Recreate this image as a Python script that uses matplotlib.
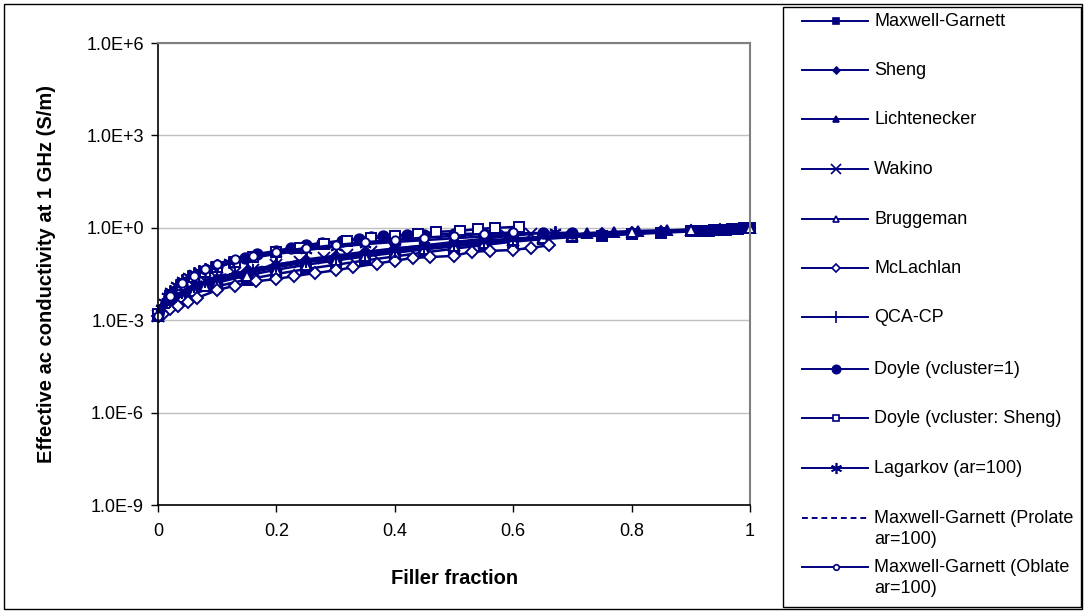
import numpy as np
import matplotlib
matplotlib.use('Agg')
from matplotlib import pyplot as plt
from matplotlib.lines import Line2D
from matplotlib.patches import Rectangle
from matplotlib.ticker import FixedLocator, FuncFormatter

plt.rcParams['font.family'] = ['Liberation Sans', 'DejaVu Sans']

# Values: filler fraction and log10 of conductivity (S/m)
mg_x = [0, 0.02, 0.05, 0.1, 0.15, 0.2, 0.25, 0.3, 0.35, 0.4, 0.45, 0.5, 0.55, 0.6, 0.65, 0.7, 0.75, 0.8, 0.85,
        0.9, 0.91, 0.92, 0.93, 0.94, 0.95, 0.96, 0.97, 0.98, 0.99, 1.0]
mg_log = [-2.85, -2.5, -2.2, -1.9, -1.68, -1.5, -1.34, -1.2, -1.06, -0.93, -0.8, -0.68, -0.56, -0.45, -0.37, -0.3,
          -0.25, -0.21, -0.16, -0.12, -0.11, -0.1, -0.09, -0.08, -0.07, -0.06, -0.04, -0.03, -0.02, 0.0]

sheng_x = [0, 0.03, 0.06, 0.1, 0.15, 0.2, 0.25, 0.3, 0.35, 0.4, 0.45, 0.5, 0.55, 0.6, 0.65, 0.7, 0.75, 0.8, 0.85,
           0.9, 0.95, 1.0]
sheng_log = [-2.85, -2.3, -1.95, -1.65, -1.4, -1.2, -1.03, -0.9, -0.78, -0.67, -0.58, -0.5, -0.42, -0.35, -0.29,
             -0.23, -0.18, -0.14, -0.1, -0.06, -0.03, 0.0]

licht_x = [0, 0.02, 0.05, 0.08, 0.1, 0.15, 0.2, 0.25, 0.3, 0.35, 0.4, 0.45, 0.5, 0.55, 0.6, 0.65, 0.7, 0.725,
           0.77, 0.81, 0.86, 0.9, 0.95, 1.0]
licht_log = [-2.85, -2.45, -2.1, -1.85, -1.72, -1.48, -1.28, -1.12, -0.98, -0.86, -0.75, -0.65, -0.56, -0.47,
             -0.38, -0.3, -0.22, -0.17, -0.13, -0.1, -0.08, -0.06, -0.03, 0.0]

wakino_x = [0, 0.02, 0.04, 0.06, 0.08, 0.1, 0.13, 0.16, 0.2, 0.24, 0.28, 0.32, 0.36, 0.4, 0.45, 0.5, 0.55, 0.59,
            0.63]
wakino_log = [-2.85, -2.4, -2.1, -1.9, -1.74, -1.62, -1.48, -1.36, -1.22, -1.1, -0.99, -0.88, -0.78, -0.68, -0.57,
              -0.46, -0.36, -0.27, -0.2]

brugg_x = [0, 0.02, 0.04, 0.06, 0.08, 0.1, 0.15, 0.2, 0.25, 0.3, 0.35, 0.4, 0.45, 0.5, 0.55, 0.6, 0.65, 0.7, 0.8,
           0.9, 1.0]
brugg_log = [-2.85, -2.5, -2.25, -2.05, -1.9, -1.78, -1.55, -1.36, -1.2, -1.06, -0.93, -0.81, -0.7, -0.6, -0.5,
             -0.4, -0.32, -0.25, -0.15, -0.07, 0.0]

mcl_x = [0, 0.01, 0.02, 0.034, 0.05, 0.066, 0.1, 0.13, 0.165, 0.2, 0.23, 0.265, 0.3, 0.33, 0.37, 0.4, 0.43, 0.46,
         0.5, 0.53, 0.56, 0.6, 0.63, 0.66]
mcl_log = [-2.85, -2.75, -2.65, -2.54, -2.4, -2.28, -2.02, -1.88, -1.74, -1.66, -1.57, -1.47, -1.38, -1.28, -1.16,
           -1.07, -0.98, -0.95, -0.91, -0.78, -0.75, -0.72, -0.65, -0.57]

qca_x = [0, 0.01, 0.02, 0.03, 0.04, 0.06, 0.08, 0.1, 0.13, 0.16, 0.2, 0.25, 0.3, 0.35, 0.4, 0.45, 0.5, 0.55, 0.6]
qca_log = [-2.85, -2.6, -2.4, -2.25, -2.12, -1.92, -1.77, -1.65, -1.5, -1.38, -1.25, -1.1, -0.98, -0.87, -0.77,
           -0.68, -0.59, -0.5, -0.42]

doyle1_x = [0, 0.02, 0.04, 0.06, 0.08, 0.1, 0.127, 0.147, 0.167, 0.2, 0.225, 0.25, 0.277, 0.31, 0.34, 0.36, 0.38,
            0.4, 0.42, 0.45, 0.5, 0.55, 0.6, 0.65, 0.7]
doyle1_log = [-2.8, -2.2, -1.85, -1.6, -1.4, -1.25, -1.1, -0.98, -0.85, -0.75, -0.65, -0.56, -0.49, -0.42, -0.36,
              -0.3, -0.28, -0.25, -0.22, -0.22, -0.2, -0.19, -0.18, -0.17, -0.16]

doyle2_x = [0, 0.02, 0.04, 0.06, 0.08, 0.1, 0.13, 0.16, 0.2, 0.24, 0.28, 0.32, 0.36, 0.4, 0.44, 0.47, 0.51, 0.54,
            0.57, 0.61]
doyle2_log = [-2.8, -2.2, -1.85, -1.6, -1.42, -1.28, -1.1, -0.95, -0.8, -0.66, -0.53, -0.42, -0.33, -0.26, -0.2,
              -0.13, -0.1, -0.04, 0.0, 0.03]

lag_x = [0, 0.005, 0.01, 0.015, 0.02, 0.03, 0.04, 0.05, 0.06, 0.07, 0.08, 0.09, 0.1, 0.12, 0.15, 0.2, 0.25, 0.3,
         0.35, 0.4, 0.45, 0.5, 0.55, 0.6, 0.67]
lag_log = [-2.85, -2.6, -2.4, -2.2, -2.05, -1.85, -1.7, -1.58, -1.48, -1.4, -1.34, -1.28, -1.22, -1.12, -1.0,
           -0.85, -0.72, -0.62, -0.53, -0.46, -0.4, -0.34, -0.28, -0.22, -0.15]

prol_x = [0, 0.02, 0.04, 0.06, 0.08, 0.1, 0.15, 0.2, 0.25, 0.3, 0.35, 0.4, 0.45, 0.5]
prol_log = [-2.85, -2.35, -2.05, -1.85, -1.7, -1.58, -1.36, -1.19, -1.05, -0.93, -0.82, -0.72, -0.63, -0.55]

obl_x = [0, 0.02, 0.04, 0.06, 0.08, 0.1, 0.13, 0.16, 0.2, 0.25, 0.3, 0.35, 0.4, 0.45, 0.5, 0.55, 0.6]
obl_log = [-2.85, -2.2, -1.8, -1.55, -1.35, -1.17, -1.02, -0.9, -0.78, -0.66, -0.56, -0.47, -0.39, -0.32, -0.26,
           -0.2, -0.15]

labels = ['Maxwell-Garnett', 'Sheng', 'Lichtenecker', 'Wakino', 'Bruggeman', 'McLachlan', 'QCA-CP',
          'Doyle (vcluster=1)', 'Doyle (vcluster: Sheng)', 'Lagarkov (ar=100)',
          'Maxwell-Garnett (Prolate\nar=100)', 'Maxwell-Garnett (Oblate\nar=100)']
series = [(mg_x, mg_log), (sheng_x, sheng_log), (licht_x, licht_log), (wakino_x, wakino_log),
          (brugg_x, brugg_log), (mcl_x, mcl_log), (qca_x, qca_log), (doyle1_x, doyle1_log),
          (doyle2_x, doyle2_log), (lag_x, lag_log), (prol_x, prol_log), (obl_x, obl_log)]

y_ticks = [1e-9, 1e-6, 1e-3, 1e0, 1e3, 1e6]
y_ticklabels = ['1.0E-9', '1.0E-6', '1.0E-3', '1.0E+0', '1.0E+3', '1.0E+6']
x_ticks = [0, 0.2, 0.4, 0.6, 0.8, 1.0]
x_ticklabels = ['0', '0.2', '0.4', '0.6', '0.8', '1']

navy = '#000080'
W, H = 1085, 614

# marker style per series: (marker, size, filled, linestyle, legend marker size)
styles = [('s', 7, True, '-', 4.5), ('D', 5, True, '-', 3.5), ('^', 6.5, True, '-', 4.5),
          ('x', 8, True, '-', 7), ('^', 6.5, False, '-', 4.5), ('D', 6.5, False, '-', 4),
          ('+', 9, True, '-', 8), ('o', 7.5, True, '-', 6), ('s', 7, False, '-', 4.5),
          ((6, 2, 0), 9, True, '-', 8), ('None', 0, True, (0, (3, 2)), 0), ('o', 6, False, '-', 4)]

fig = plt.figure(figsize=(W / 100, H / 100), dpi=100)
ax = fig.add_axes([158 / W, 1 - 505 / H, (750 - 158) / W, (505 - 43) / H])

for (xs, ls), (mk, ms, filled, lstyle, lms) in zip(series, styles):
    ax.plot(xs, 10 ** np.array(ls), color=navy, lw=1.8, ls=lstyle, marker=mk, ms=ms,
            mfc=navy if filled else 'white', mec=navy, mew=1.4, clip_on=False)

ax.set_yscale('log')
ax.set_ylim(1e-9, 1e6)
ax.set_xlim(0, 1)
ax.yaxis.set_major_locator(FixedLocator(y_ticks))
ax.yaxis.set_major_formatter(FuncFormatter(lambda v, p: y_ticklabels[y_ticks.index(v)] if v in y_ticks else ''))
ax.yaxis.set_minor_locator(FixedLocator([]))
ax.set_xticks(x_ticks)
ax.set_xticklabels(x_ticklabels)
ax.tick_params(axis='both', direction='out', length=5, width=1, labelsize=13, colors='black', pad=5)
ax.tick_params(axis='x', pad=8)
ax.grid(axis='y', color='#c0c0c0', lw=1)
ax.set_axisbelow(True)
for s in ['top', 'right']:
    ax.spines[s].set_color('#808080')
    ax.spines[s].set_linewidth(1.5)
for s in ['left', 'bottom']:
    ax.spines[s].set_color('black')
    ax.spines[s].set_linewidth(1.2)

fig.text(47 / W, 1 - 274 / H, 'Effective ac conductivity at 1 GHz (S/m)', rotation=90, ha='center', va='center',
         fontsize=14.5, fontweight='bold')
fig.text(455 / W, 1 - 578 / H, 'Filler fraction', ha='center', va='center', fontsize=14.5, fontweight='bold')

# outer border and legend box
fig.add_artist(Rectangle((4 / W, 1 - 609 / H), (1082 - 4) / W, (609 - 4) / H, transform=fig.transFigure,
                         fill=False, ec='black', lw=1))
fig.add_artist(Rectangle((783 / W, 1 - 607 / H), (1081 - 783) / W, (607 - 7) / H, transform=fig.transFigure,
                         fill=False, ec='black', lw=1))

legend_y = [21, 70, 119, 169, 219, 268, 317, 369, 418, 468, 518, 567]
for lab, (mk, ms, filled, lstyle, lms), yy in zip(labels, styles, legend_y):
    fy = 1 - yy / H
    fig.add_artist(Line2D([802 / W, 868 / W], [fy, fy], color=navy, lw=1.4, ls=lstyle,
                          transform=fig.transFigure))
    if mk != 'None':
        fig.add_artist(Line2D([836 / W], [fy], color=navy, marker=mk, ms=lms,
                              mfc=navy if filled else 'white', mec=navy, mew=1.2, transform=fig.transFigure))
    fig.text(874 / W, 1 - (yy - 8) / H, lab, ha='left', va='top', fontsize=13, linespacing=1.3)

fig.savefig('out.png', dpi=100)
